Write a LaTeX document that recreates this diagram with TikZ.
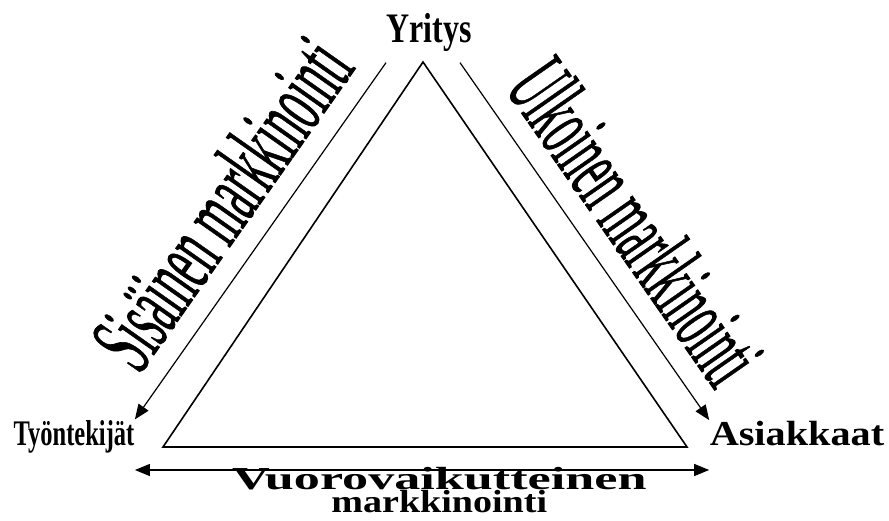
\documentclass[tikz,border=0pt]{standalone}
\usepackage{fontspec}
\setmainfont{Liberation Serif}
\newfontfamily\sidefont[FakeBold=1]{Liberation Serif}
\usetikzlibrary{arrows.meta}

\begin{document}
\begin{tikzpicture}[x=1pt, y=1pt, >={Triangle[length=15pt,width=12pt]},
    line width=1.2pt,
    corner/.style={inner sep=0pt, anchor=base},
    side/.style={sloped, above=20pt, inner sep=0pt,
      font=\sidefont\fontsize{95}{95}\selectfont}]
  \useasboundingbox (0,0) rectangle (889,-521);
  % Triangle
  \draw[line width=1.6pt] (423,-62) -- (163,-447) -- (687,-447) -- cycle;
  % Corners
  \node[corner, font=\fontsize{42}{42}\selectfont\bfseries] (yr) at (429,-43)
    {\scalebox{0.76}[1]{Yritys}};
  \node[corner, font=\fontsize{36}{36}\selectfont\bfseries] (ty) at (74,-445)
    {\scalebox{0.68}[1]{Työntekijät}};
  \node[corner, font=\fontsize{35}{35}\selectfont\bfseries] (as) at (797,-445)
    {\scalebox{1.15}[1]{Asiakkaat}};
  % Sides
  \draw[->] ([shift={(-43,-10)}]yr.south) -- (ty.north east)
    node[side, pos=0.48] {\scalebox{0.45}[1]{Sisäinen markkinointi}};
  \draw[->] ([shift={(31,-10)}]yr.south) -- (as.north west)
    node[side, pos=0.53] {\scalebox{0.425}[1]{Ulkoinen markkinointi}};
  % Bottom
  \draw[<->] ([yshift=-25pt]ty.base east) -- ([yshift=-25pt]as.base west)
    node[pos=0.53, below=-3pt, inner sep=0pt, align=center,
      font=\fontsize{32}{25}\selectfont\bfseries]
    {\scalebox{1.63}[1]{Vuorovaikutteinen}\\[-2pt] \scalebox{1.19}[1]{markkinointi}};
\end{tikzpicture}
\end{document}
